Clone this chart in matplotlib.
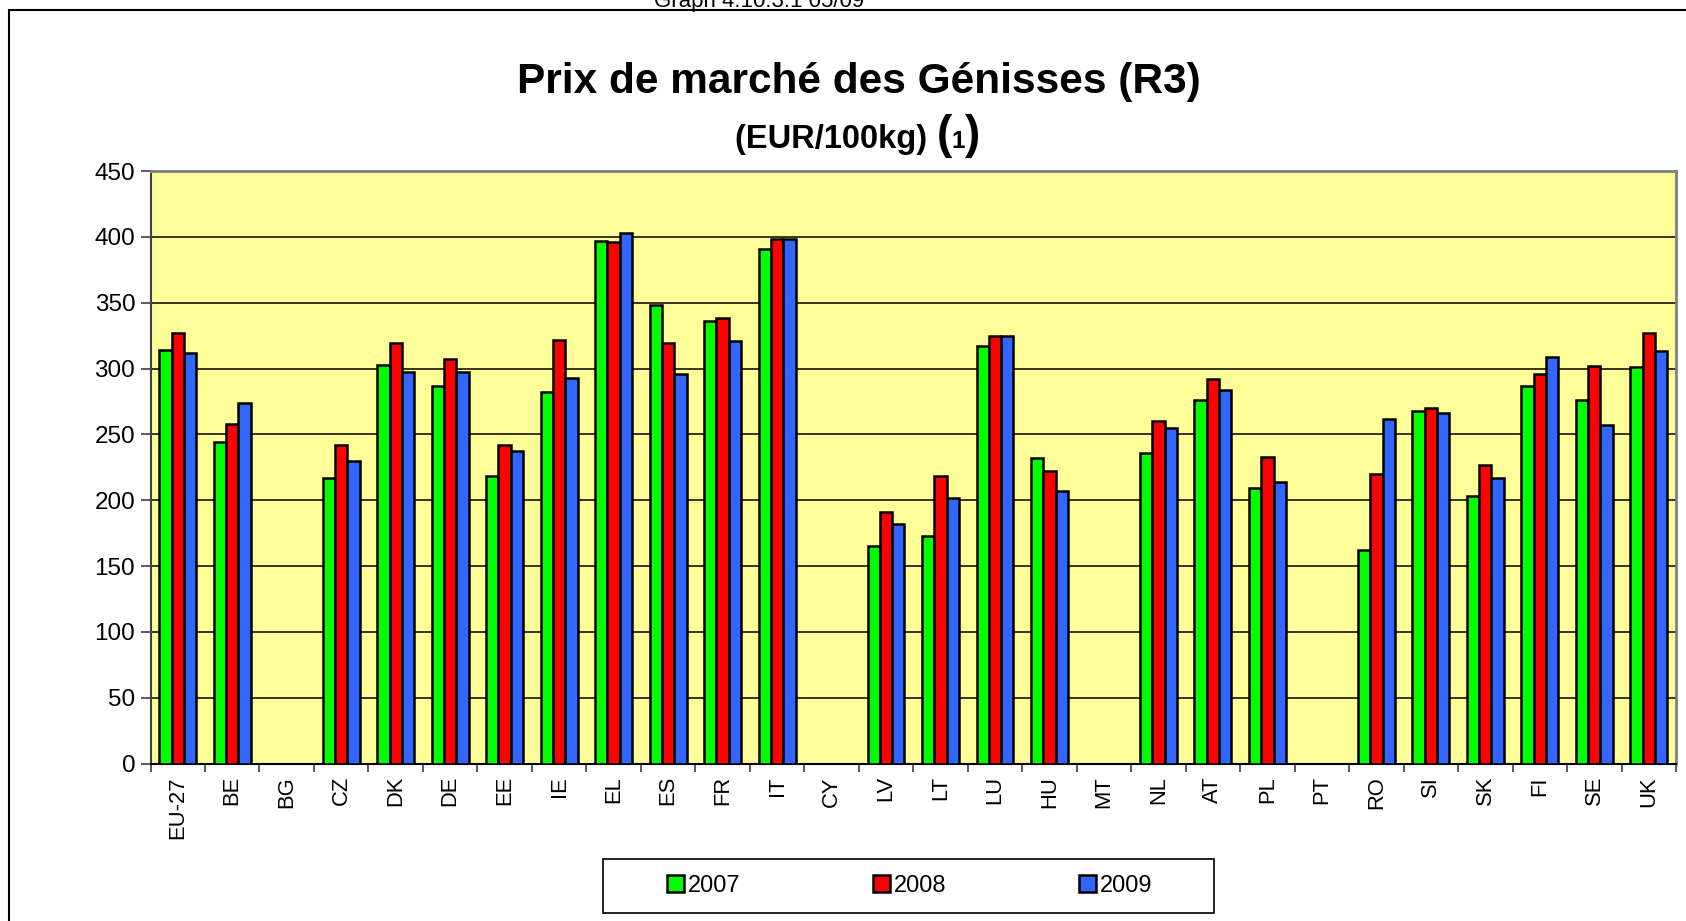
import matplotlib
matplotlib.use('Agg')
import matplotlib.pyplot as plt
import numpy as np
from matplotlib.patches import Rectangle

plt.rcParams['font.family'] = ['Liberation Sans', 'DejaVu Sans']

countries = ['EU-27', 'BE', 'BG', 'CZ', 'DK', 'DE', 'EE', 'IE', 'EL', 'ES',
             'FR', 'IT', 'CY', 'LV', 'LT', 'LU', 'HU', 'MT', 'NL', 'AT',
             'PL', 'PT', 'RO', 'SI', 'SK', 'FI', 'SE', 'UK']
years = ['2007', '2008', '2009']
nan = np.nan
prix_2007 = [314, 244, nan, 217, 303, 287, 218, 282, 397, 348,
             336, 391, nan, 165, 173, 317, 232, nan, 236, 276,
             209, nan, 162, 268, 203, 287, 276, 301]
prix_2008 = [327, 258, nan, 242, 319, 307, 242, 322, 396, 319,
             338, 398, nan, 191, 218, 325, 222, nan, 260, 292,
             233, nan, 220, 270, 227, 296, 302, 327]
prix_2009 = [312, 274, nan, 230, 297, 297, 237, 293, 403, 296,
             321, 398, nan, 182, 202, 325, 207, nan, 255, 284,
             214, nan, 262, 266, 217, 309, 257, 313]
colors = ['#00FF00', '#FF0000', '#3366FF']

W, H = 1686, 921
fig = plt.figure(figsize=(W / 100, H / 100), dpi=100)
ax = fig.add_axes((150.5 / W, 1 - 763.5 / H, (1676 - 150.5) / W, (763.5 - 171) / H))
ax.set_facecolor('#FFFF99')

x = np.arange(len(countries))
w = 0.226
for i, (vals, c, yr) in enumerate(zip([prix_2007, prix_2008, prix_2009], colors, years)):
    ax.bar(x + (i - 1) * w, vals, width=w, color=c, edgecolor='black',
           linewidth=1.8, label=yr, zorder=3)

ax.set_xlim(-0.5, len(countries) - 0.5)
ax.set_ylim(0, 450)
ax.set_yticks(np.arange(0, 451, 50))
ax.yaxis.grid(True, color='black', linewidth=1.1, zorder=1)
ax.set_axisbelow(True)

# tick marks between countries, labels centred under each group
ax.set_xticks(np.arange(-0.5, len(countries)), labels=[])
ax.set_xticks(x, labels=countries, minor=True, rotation=90)
ax.tick_params(axis='x', which='major', length=6, width=1.2, color='#404040', direction='out')
ax.tick_params(axis='x', which='minor', length=0, pad=9, labelsize=15.8)
ax.tick_params(axis='y', length=7, width=1.2, color='#404040', labelsize=17.5, pad=4)

for s in ['top', 'right']:
    ax.spines[s].set_color('#808080')
    ax.spines[s].set_linewidth(2)
ax.spines['left'].set_color('#404040')
ax.spines['left'].set_linewidth(1.5)
ax.spines['bottom'].set_color('black')
ax.spines['bottom'].set_linewidth(1.5)

# outer chart frame, open to the right and bottom
fig.add_artist(Rectangle((9 / W, -0.05), 1.1, 1 - 10 / H + 0.05,
                         transform=fig.transFigure, fill=False,
                         edgecolor='black', linewidth=1.5))
fig.text(759 / W, 1 - 1 / H, 'Graph 4.10.3.1 05/09', ha='center', va='center',
         fontsize=16)

fig.text(0.5096, 1 - 81.5 / H, 'Prix de marché des Génisses (R3)', ha='center',
         va='center', fontsize=30.5, fontweight='bold')

# subtitle with larger brackets around a small footnote number
base_y = 1 - 148 / H
renderer = fig.canvas.get_renderer()
t1 = fig.text(0, base_y, '(EUR/100kg) ', fontsize=23.5, fontweight='bold', va='baseline')
t2 = fig.text(0, base_y, '(', fontsize=33, fontweight='bold', va='baseline')
t3 = fig.text(0, base_y, '1', fontsize=17.5, fontweight='bold', va='baseline')
t4 = fig.text(0, base_y, ')', fontsize=33, fontweight='bold', va='baseline')
parts = [t1, t2, t3, t4]
widths = [t.get_window_extent(renderer).width / fig.bbox.width for t in parts]
xpos = 858 / W - sum(widths) / 2
for t, wd in zip(parts, widths):
    t.set_x(xpos)
    xpos += wd

leg = fig.legend(loc='center', bbox_to_anchor=(909.5 / W, 1 - 886 / H),
                 ncol=3, fontsize=17, frameon=False, handlelength=0.75,
                 handleheight=0.75, handletextpad=0.15, columnspacing=5.6,
                 borderaxespad=0)
fig.add_artist(Rectangle((603 / W, 1 - 913 / H), (1214 - 603) / W, 54 / H,
                         transform=fig.transFigure, fill=False,
                         edgecolor='black', linewidth=1.2))

fig.savefig('out.png', dpi=100)
